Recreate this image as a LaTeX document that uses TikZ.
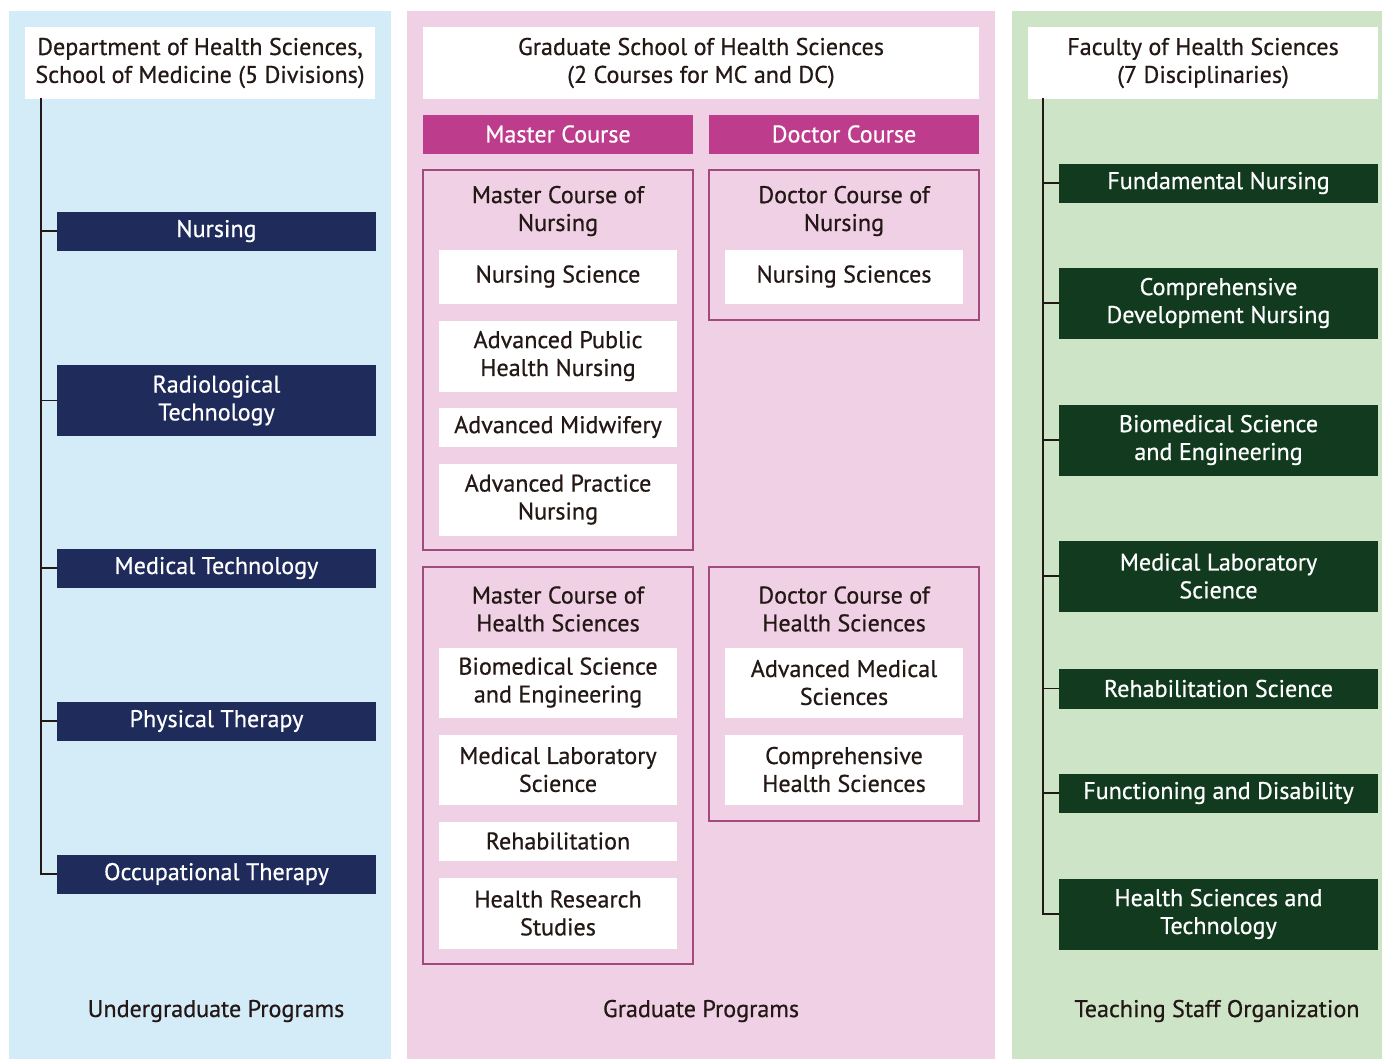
\documentclass[tikz,border=0pt]{standalone}
\usepackage{fontspec}
\setmainfont{PT Sans}[FakeBold=0.6]
\usetikzlibrary{positioning}
\definecolor{ugpanel}{HTML}{D4EBF8}
\definecolor{grpanel}{HTML}{F0D0E4}
\definecolor{tspanel}{HTML}{CDE4C6}
\definecolor{ugblue}{HTML}{1F2B5B}
\definecolor{tsgreen}{HTML}{113A1F}
\definecolor{coursebar}{HTML}{BE3C8C}
\definecolor{courseline}{HTML}{A24A7E}
\definecolor{ink}{HTML}{231815}
\tikzset{
  txt/.style={font=\fontsize{24.2}{28}\selectfont,align=center,inner sep=0pt},
  hdrbox/.style={txt,fill=white,text=ink,minimum width=350bp,minimum height=72bp},
  ugbox/.style={txt,fill=ugblue,text=white,minimum width=319bp},
  tsbox/.style={txt,fill=tsgreen,text=white,minimum width=319bp},
  barbox/.style={txt,fill=coursebar,text=white,minimum width=270bp,minimum height=39bp},
  coursebox/.style={draw=courseline,line width=1.2bp,minimum width=270bp,inner sep=0pt},
  fieldbox/.style={txt,fill=white,text=ink,minimum width=238bp},
  caption/.style={txt,text=ink},
  trunk/.style={draw=ink,line width=1.1bp},
}
\begin{document}
\begin{tikzpicture}[x=1bp,y=-1bp]
\useasboundingbox (0,0) rectangle (1382,1059);
%% panels
\fill[white] (0,0) rectangle (1382,1059);
\fill[ugpanel] (9,11) rectangle (391,1059);
\fill[grpanel] (407,11) rectangle (995,1059);
\fill[tspanel] (1012,11) rectangle (1382,1059);
%% undergraduate
\node (ug_hdr) at (200,63) [hdrbox] {Department of Health Sciences,\\School of Medicine (5 Divisions)};
\node (ug_1) at (216.5,231) [ugbox,minimum height=39bp] {Nursing};
\node (ug_2) at (216.5,400.5) [ugbox,minimum height=71bp] {Radiological\\Technology};
\node (ug_3) at (216.5,568) [ugbox,minimum height=39bp] {Medical Technology};
\node (ug_4) at (216.5,721) [ugbox,minimum height=39bp] {Physical Therapy};
\node (ug_5) at (216.5,874) [ugbox,minimum height=39bp] {Occupational Therapy};
\node (ug_cap) at (216,1011) [caption] {Undergraduate Programs};
\coordinate (ug_top) at (41,98);
\foreach \i in {1,...,5}
  \draw[trunk] (ug_top) |- (ug_\i.west);
%% graduate
\node (gr_hdr) at (701,63) [hdrbox,minimum width=556bp] {Graduate School of Health Sciences\\(2 Courses for MC and DC)};
\node (gr_mc) at (558,134) [barbox] {Master Course};
\node (gr_dc) at (844,134) [barbox] {Doctor Course};
\node (mc_1) at (558,360) [coursebox,minimum height=380bp] {};
\node (dc_1) at (844,245) [coursebox,minimum height=150bp] {};
\node (mc_2) at (558,765.5) [coursebox,minimum height=397bp] {};
\node (dc_2) at (844,694) [coursebox,minimum height=254bp] {};
\node (mc_1t) at (558,211) [txt,text=ink] {Master Course of\\Nursing};
\node (dc_1t) at (844,211) [txt,text=ink] {Doctor Course of\\Nursing};
\node (mc_2t) at (558,609) [txt,text=ink] {Master Course of\\Health Sciences};
\node (dc_2t) at (844,609) [txt,text=ink] {Doctor Course of\\Health Sciences};
\node (mc_1a) at (558,276.5) [fieldbox,minimum height=54bp] {Nursing Science};
\node (mc_1b) at (558,356) [fieldbox,minimum height=71bp] {Advanced Public\\Health Nursing};
\node (mc_1c) at (558,427) [fieldbox,minimum height=39bp] {Advanced Midwifery};
\node (mc_1d) at (558,499.5) [fieldbox,minimum height=72bp] {Advanced Practice\\Nursing};
\node (dc_1a) at (844,276.5) [fieldbox,minimum height=54bp] {Nursing Sciences};
\node (mc_2a) at (558,682.5) [fieldbox,minimum height=70bp] {Biomedical Science\\and Engineering};
\node (mc_2b) at (558,769.5) [fieldbox,minimum height=70bp] {Medical Laboratory\\Science};
\node (mc_2c) at (558,841) [fieldbox,minimum height=39bp] {Rehabilitation};
\node (mc_2d) at (558,913) [fieldbox,minimum height=71bp] {Health Research\\Studies};
\node (dc_2a) at (844,682.5) [fieldbox,minimum height=70bp] {Advanced Medical\\Sciences};
\node (dc_2b) at (844,769.5) [fieldbox,minimum height=70bp] {Comprehensive\\Health Sciences};
\node (gr_cap) at (701,1011) [caption] {Graduate Programs};
%% teaching staff
\node (ts_hdr) at (1203,63) [hdrbox] {Faculty of Health Sciences\\(7 Disciplinaries)};
\node (ts_1) at (1218.5,183) [tsbox,minimum height=39bp] {Fundamental Nursing};
\node (ts_2) at (1218.5,303) [tsbox,minimum height=71bp] {Comprehensive\\Development Nursing};
\node (ts_3) at (1218.5,440) [tsbox,minimum height=71bp] {Biomedical Science\\and Engineering};
\node (ts_4) at (1218.5,576) [tsbox,minimum height=71bp] {Medical Laboratory\\Science};
\node (ts_5) at (1218.5,688.5) [tsbox,minimum height=40bp] {Rehabilitation Science};
\node (ts_6) at (1218.5,793) [tsbox,minimum height=39bp] {Functioning and Disability};
\node (ts_7) at (1218.5,914) [tsbox,minimum height=71bp] {Health Sciences and\\Technology};
\node (ts_cap) at (1217,1011) [caption] {Teaching Staff Organization};
\coordinate (ts_top) at (1043,98);
\foreach \i in {1,...,7}
  \draw[trunk] (ts_top) |- (ts_\i.west);
%
\end{tikzpicture}
\end{document}
